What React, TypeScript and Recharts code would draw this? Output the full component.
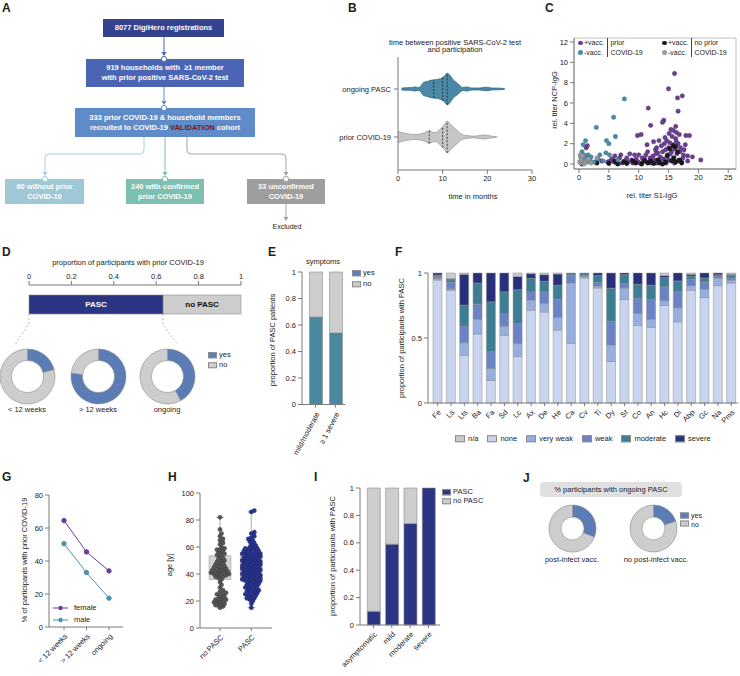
import {
  Area,
  Bar,
  BarChart,
  Cell,
  ComposedChart,
  LabelList,
  Line,
  LineChart,
  Pie,
  PieChart,
  ReferenceArea,
  ReferenceLine,
  Scatter,
  ScatterChart,
  XAxis,
  YAxis,
} from 'recharts'

const FONT = '"Liberation Sans", Arial, Helvetica, sans-serif'

// ---- B: violin densities (time in months, relative density) ----
const pascViolin: [number, number][] = [
  [0.8, 0.06], [2, 0.08], [3, 0.09], [3.8, 0.13], [4.6, 0.09], [5.2, 0.22], [5.7, 0.41], [6.5, 0.47],
  [7.5, 0.56], [8.5, 0.59], [9.8, 0.69], [10.5, 0.84], [11, 1], [11.6, 0.88], [12.4, 0.56], [13.2, 0.38],
  [13.9, 0.21], [14.5, 0.09], [15.4, 0.13], [16.5, 0.06], [18, 0.06], [19.8, 0.11], [21, 0.06], [23, 0.05], [23.9, 0.02],
]
const priorViolin: [number, number][] = [
  [0, 0.35], [1.2, 0.25], [2.7, 0.18], [4.2, 0.15], [5.2, 0.2], [6, 0.27], [7, 0.4], [7.8, 0.3], [8.3, 0.27],
  [9.4, 0.49], [10.3, 0.75], [11, 1], [11.8, 0.8], [12.7, 0.55], [13.5, 0.35], [14.2, 0.18], [15.4, 0.09],
  [17.2, 0.05], [19.1, 0.13], [21, 0.05], [22.2, 0],
]
const pascQuartiles = [8, 10, 11]
const priorQuartiles = [7, 10, 11]

// ---- C: titers (S1-IgG, NCP-IgG) ----
const vaccPrior: [number, number][] = [
  [16, 8.9], [15, 7.4], [17.3, 6.7], [16.5, 6.5], [11.6, 5.5], [16.6, 5.2], [14.2, 4.3], [14, 4.1], [12, 3.8],
  [16.2, 3.7], [15.4, 3.4], [15.8, 3.3], [16.3, 3.1], [15.1, 3.0], [16.8, 2.9], [15.6, 2.7], [16.2, 2.5],
  [17.9, 2.8], [18.5, 2.8], [10.4, 2.9], [9.8, 2.8], [11.4, 1.9], [13.4, 2.3], [14.7, 2.3], [17.8, 1.9],
  [12.5, 2.2], [14.3, 2.0], [15.2, 2.1], [16.6, 2.0], [13.8, 1.8], [15.0, 1.6], [16.0, 1.5], [17.0, 1.6],
  [14.5, 1.4], [12.8, 1.4], [11.5, 1.2], [13.2, 1.1], [15.5, 1.2], [16.4, 1.0], [17.5, 0.9], [18.2, 0.8],
  [19, 0.7], [20.4, 0.4], [18.2, 0.3], [17.4, 0.6], [14.8, 0.9], [13.6, 0.7], [12.4, 0.8], [11.2, 0.9],
  [10.6, 0.6], [9.6, 0.5], [8.8, 0.4], [7.6, 0.3], [6.8, 0.6], [5.9, 0.2], [5.2, 0.3], [6.3, 0.1], [7.2, 0.1],
  [8.2, 0.2], [9.0, 0.1], [9.9, 0.2], [10.8, 0.3], [11.7, 0.2], [12.6, 0.4], [13.4, 0.3], [14.2, 0.5],
  [15.0, 0.4], [15.8, 0.6], [16.6, 0.3], [17.2, 0.2], [12.0, 0.1], [13.0, 0.1], [14.6, 0.1], [16.0, 0.1],
  [10.2, 0.1], [11.0, 0.5], [8.0, 0.6], [6.0, 0.8], [3.8, 0.3], [4.8, 0.2], [1.5, 0.8], [1.2, 1.6], [1.4, 1.8],
  [0.9, 0.5], [2.9, 0.2], [9.3, 0.9], [12.9, 1.0], [14.0, 1.2], [15.3, 1.0], [16.9, 1.2], [17.6, 1.4],
  [13.7, 0.5], [11.9, 0.6], [10.0, 0.9], [7.0, 0.9], [5.5, 0.5], [8.5, 1.0], [16.3, 2.2], [15.7, 1.9],
  [14.4, 2.6], [13.0, 1.6],
]
const unvaccPrior: [number, number][] = [
  [7.6, 6.4], [5.8, 4.6], [2.9, 3.6], [6.1, 2.7], [4.6, 2.3], [5, 2.0], [1.1, 2.3], [0.7, 1.9], [0.5, 1.2],
  [1.5, 0.9], [0.3, 0.7], [0.6, 0.5], [0.9, 0.3], [1.3, 0.2], [0.4, 0.1], [1.8, 0.4], [2.0, 0.7], [3.5, 0.9],
  [3.2, 0.5], [4.5, 1.1], [5.1, 0.9], [2.5, 0.2], [0.8, 0.9], [1.0, 0.6], [4.0, 0.3], [6.5, 0.4],
]
const vaccNoPrior: [number, number][] = [
  [0.5, 0.0], [3, 0.1], [5, 0.05], [6.5, 0.0], [8, 0.05], [9.5, 0.1], [10.5, 0.0], [11.5, 0.1], [12.5, 0.05],
  [13.5, 0.1], [14.5, 0.2], [15.5, 0.3], [16.2, 0.2], [15.8, 1.8], [16.2, 1.7], [15.2, 1.5], [16.5, 1.2],
  [14.8, 0.8], [13.2, 0.4], [12.0, 0.3], [11.0, 0.3], [9.0, 0.3], [7.5, 0.2], [6.0, 0.3], [15.9, 0.6],
  [16.8, 0.4], [17.2, 0.1], [14.0, 0.0],
]
const unvaccNoPrior: [number, number][] = [
  [0.2, 0.9], [0.3, 0.6], [0.1, 0.2], [0.5, 0.1], [0.8, 0.0], [1.2, 0.3], [1.6, 0.5], [2.0, 0.1], [0.4, 0.4],
  [3, 0.6], [0.6, 0.8], [1.0, 0.1],
]

// ---- D ----
const pascOverall = 0.633
const durationLabels = ['< 12 weeks', '> 12 weeks', 'ongoing']
const durationYes = [0.21, 0.77, 0.42]

// ---- E ----
const symptomGroups = ['mild/moderate', '≥ 1 severe']
const symptomYes = [0.66, 0.54]

// ---- F ----
const symptomCodes = ['Fe', 'Ls', 'Lts', 'Ba', 'Fa', 'Sd', 'Lc', 'Ax', 'De', 'He', 'Ca', 'Cv', 'Ti', 'Dy', 'St', 'Co', 'An', 'Hc', 'Di', 'Abp', 'Gc', 'Na', 'Pms']
const sevNone = [0.945, 0.867, 0.367, 0.531, 0.173, 0.52, 0.357, 0.714, 0.699, 0.561, 0.459, 0.962, 0.885, 0.32, 0.796, 0.597, 0.582, 0.75, 0.625, 0.867, 0.811, 0.903, 0.923]
const sevVeryWeak = [0.012, 0.011, 0.097, 0.112, 0.092, 0.072, 0.1, 0.076, 0.066, 0.097, 0.464, 0.012, 0.015, 0.126, 0.089, 0.092, 0.061, 0.036, 0.107, 0.036, 0.064, 0.059, 0.021]
const sevWeak = [0.017, 0.052, 0.128, 0.117, 0.13, 0.094, 0.155, 0.065, 0.09, 0.14, 0.059, 0.006, 0.026, 0.184, 0.033, 0.115, 0.153, 0.107, 0.123, 0.046, 0.054, 0.015, 0.018]
const sevModerate = [0.011, 0.019, 0.161, 0.163, 0.383, 0.169, 0.26, 0.104, 0.081, 0.108, 0.013, 0.015, 0.054, 0.253, 0.069, 0.109, 0.11, 0.071, 0.084, 0.028, 0.033, 0.01, 0.02]
const sevSevere = [0.015, 0.008, 0.237, 0.077, 0.222, 0.145, 0.102, 0.036, 0.051, 0.086, 0.005, 0.005, 0.02, 0.117, 0.013, 0.087, 0.094, 0.016, 0.061, 0.013, 0.038, 0.013, 0.008]
const sevNA = [0, 0.043, 0.01, 0, 0, 0, 0.026, 0.005, 0.013, 0.008, 0, 0, 0, 0, 0, 0, 0, 0.02, 0, 0.01, 0, 0, 0.01]

// ---- G ----
const periods = ['< 12 weeks', '> 12 weeks', 'ongoing']
const femalePct = [64.5, 45.5, 34]
const malePct = [50.5, 33, 17.5]

// ---- H ----
const agesNoPasc = [15, 16, 17, 17, 18, 18, 19, 19, 20, 20, 21, 21, 22, 22, 23, 24, 25, 25, 26, 27, 28, 30, 32, 34, 36, 37, 38, 38, 39, 39, 40, 40, 40, 41, 41, 41, 42, 42, 42, 43, 43, 43, 44, 44, 45, 45, 46, 46, 47, 48, 48, 49, 50, 50, 51, 52, 53, 54, 55, 55, 56, 57, 58, 58, 59, 60, 62, 63, 65, 66, 68, 70, 73, 82]
const agesPasc = [15, 18, 20, 21, 22, 22, 23, 24, 24, 25, 25, 26, 26, 27, 27, 28, 28, 29, 29, 30, 30, 31, 31, 32, 32, 33, 33, 34, 34, 35, 35, 35, 36, 36, 36, 37, 37, 37, 38, 38, 38, 39, 39, 39, 40, 40, 40, 41, 41, 41, 42, 42, 42, 43, 43, 43, 44, 44, 44, 45, 45, 45, 46, 46, 46, 47, 47, 47, 48, 48, 48, 49, 49, 49, 50, 50, 50, 51, 51, 51, 52, 52, 52, 53, 53, 53, 54, 54, 54, 55, 55, 55, 56, 56, 56, 57, 57, 58, 58, 58, 59, 59, 60, 60, 61, 62, 63, 64, 65, 66, 67, 68, 70, 71, 86, 87]
// min, q1, median, q3, max
const boxNoPasc = [15, 36, 42, 53.5, 82]
const boxPasc = [15, 35.5, 45, 55.8, 86]

// ---- I ----
const severityGroups = ['asymptomatic', 'mild', 'moderate', 'severe']
const pascBySeverity = [0.1, 0.59, 0.74, 1]

// ---- J ----
const vaccLabels = ['post-infect vacc.', 'no post-infect vacc.']
const ongoingYes = [0.31, 0.2]

// ---- colours ----
const NAVY = '#2c3584'
const GREY = '#cdcdcd'
const YES = '#5b7cb4'
const TEAL = '#4a87a1'
const EDGE = '#8c8c8c'
const AX = '#7a7a7a'
const SEV = { na: '#cbcbcb', none: '#c9d5ee', vweak: '#97afdf', weak: '#6983c6', moderate: '#3d7e95', severe: '#28307e' }
const tickStyle = { fontSize: 7.5, fill: '#222', fontFamily: FONT }

function Lbl({ x, y, children, size = 7.5, weight = 400, color = '#222', align = 'center', rot = 0 }: any) {
  const tx = align === 'center' ? '-50%' : align === 'right' ? '-100%' : '0'
  return (
    <div
      style={{
        position: 'absolute', left: x, top: y, transform: `translate(${tx}, -50%) rotate(${rot}deg)`,
        fontSize: size, fontWeight: weight, color, whiteSpace: 'nowrap', lineHeight: 1.1, textAlign: 'center',
      }}
    >
      {children}
    </div>
  )
}

const Letter = ({ x, y, ch }: any) => (
  <div style={{ position: 'absolute', left: x, top: y - 2, fontSize: 12, fontWeight: 700, lineHeight: 1 }}>{ch}</div>
)

const Swatch = ({ x, y, color, label, size = 7.5 }: any) => (
  <div style={{ position: 'absolute', left: x, top: y, transform: 'translateY(-50%)', display: 'flex', alignItems: 'center', fontSize: size, lineHeight: 1 }}>
    <span style={{ display: 'inline-block', width: 7, height: 4, background: color, border: `0.5px solid ${EDGE}`, marginRight: 2 }} />
    {label}
  </div>
)

const FlowBox = ({ x, y, w, h, bg, children }: any) => (
  <div
    style={{
      position: 'absolute', left: x, top: y, width: w, height: h, background: bg, color: '#fff', fontWeight: 700,
      fontSize: 7.5, lineHeight: '10px', display: 'flex', alignItems: 'center', justifyContent: 'center', textAlign: 'center',
    }}
  >
    <div>{children}</div>
  </div>
)

function rotTick(angle: number, labels?: Record<string, string>) {
  return (props: any) => {
    const { x, y, payload } = props
    const ty = y + 3
    const text = labels ? labels[String(payload.value)] : payload.value
    return (
      <text x={x + 2} y={ty} dy="0.35em" transform={`rotate(${angle} ${x + 2} ${ty})`} textAnchor="end" fontSize={7.5} fill="#222">
        {text}
      </text>
    )
  }
}

function Donut({ cx, cy, outer, inner, yes }: any) {
  const size = outer * 2 + 4
  const data = [{ k: 'yes', v: yes }, { k: 'no', v: 1 - yes }]
  return (
    <div style={{ position: 'absolute', left: cx - size / 2, top: cy - size / 2 }}>
      <PieChart width={size} height={size} margin={{ top: 0, right: 0, bottom: 0, left: 0 }}>
        <Pie data={data} dataKey="v" cx={size / 2} cy={size / 2} innerRadius={inner} outerRadius={outer} startAngle={90} endAngle={-270} stroke={EDGE} strokeWidth={0.6} isAnimationActive={false}>
          <Cell fill={YES} />
          <Cell fill={GREY} />
        </Pie>
      </PieChart>
    </div>
  )
}

// ---------- A ----------
function PanelA() {
  const head = (x: number, y: number, c: string) => <polygon points={`${x - 2.5},${y - 4} ${x + 2.5},${y - 4} ${x},${y}`} fill={c} />
  const dot = (x: number, y: number, c: string) => <circle cx={x} cy={y} r={2.6} fill="#fff" stroke={c} strokeWidth={1} />
  return (
    <>
      <svg width={740} height={676} style={{ position: 'absolute', left: 0, top: 0 }}>
        <g fill="none" strokeWidth={1}>
          <path d="M164 37 V55" stroke="#4b65b5" />
          <path d="M164 87 V104" stroke="#5f8bc8" />
          <path d="M144 137 V150 Q144 154 140 154 H49 Q45 154 45 158 V175" stroke="#a8cfe0" />
          <path d="M165 137 V175" stroke="#7dbfb1" />
          <path d="M187 137 V150 Q187 154 191 154 H282 Q286 154 286 158 V175" stroke="#a3a3a3" />
          <path d="M286 204 V219" stroke="#a3a3a3" />
        </g>
        {head(164, 56, '#4b65b5')}
        {head(164, 105, '#5f8bc8')}
        {head(45, 176, '#a8cfe0')}
        {head(165, 176, '#7dbfb1')}
        {head(286, 176, '#a3a3a3')}
        {head(286, 221, '#a3a3a3')}
      </svg>
      <FlowBox x={103} y={19} w={121} h={18} bg="#34438f">8077 DigiHero registrations</FlowBox>
      <FlowBox x={86} y={59} w={158} h={28} bg="#4b65b5">
        919 households with &nbsp;≥1 member<br />with prior positive SARS-CoV-2 test
      </FlowBox>
      <FlowBox x={75} y={108} w={180} h={29} bg="#5f8bc8">
        333 prior COVID-19 &amp; household members<br />recruited to COVID-19 <span style={{ color: '#7a1a12' }}>VALIDATION</span> cohort
      </FlowBox>
      <FlowBox x={5} y={179} w={79} h={25} bg="#9fc8d7">60 without prior<br />COVID-19</FlowBox>
      <FlowBox x={126} y={179} w={78} h={25} bg="#7dbfb1">240 with confirmed<br />prior COVID-19</FlowBox>
      <FlowBox x={247} y={179} w={78} h={25} bg="#9e9e9e">33 unconfirmed<br />COVID-19</FlowBox>
      <svg width={740} height={676} style={{ position: 'absolute', left: 0, top: 0 }}>
        {dot(164, 59, '#4b65b5')}
        {dot(164, 108, '#5f8bc8')}
        {dot(45, 179, '#a8cfe0')}
        {dot(165, 179, '#7dbfb1')}
        {dot(286, 179, '#a3a3a3')}
      </svg>
      <Lbl x={287} y={227} size={7}>Excluded</Lbl>
    </>
  )
}

// ---------- B ----------
const VY = { pasc: 0.717, prior: 0.292 }
const VW = 0.14
function densAt(arr: [number, number][], t: number) {
  for (let i = 1; i < arr.length; i++) {
    if (t <= arr[i][0]) {
      const [t0, w0] = arr[i - 1]
      const [t1, w1] = arr[i]
      return w0 + ((w1 - w0) * (t - t0)) / (t1 - t0)
    }
  }
  return 0
}
const violinTick = (props: any) => {
  const { x, y, payload } = props
  return (
    <text x={x - 1} y={y} dy="0.35em" textAnchor="end" fontSize={7.5} fill="#222">
      {payload.value === VY.pasc ? 'ongoing PASC' : 'prior COVID-19'}
    </text>
  )
}
function PanelB() {
  const toArea = (arr: [number, number][], c: number) => arr.map(([t, w]) => ({ t, r: [c - w * VW, c + w * VW] }))
  const qLines = (arr: [number, number][], qs: number[], c: number, key: string) =>
    qs.map((q, i) => {
      const h = densAt(arr, q) * VW
      return <ReferenceLine key={key + i} segment={[{ x: q, y: c - h }, { x: q, y: c + h }]} stroke="#222" strokeWidth={0.8} strokeDasharray="2 1.5" />
    })
  return (
    <div style={{ position: 'absolute', left: 320, top: 30 }}>
      <ComposedChart width={230} height={180} margin={{ top: 27, right: 18, left: 8, bottom: 10 }}>
        <XAxis type="number" dataKey="t" domain={[0, 30]} ticks={[0, 10, 20, 30]} allowDataOverflow height={30} stroke={AX} tick={tickStyle} tickSize={4} />
        <YAxis type="number" domain={[0, 1]} ticks={[VY.prior, VY.pasc]} width={70} stroke={AX} tick={violinTick} tickSize={4} />
        <Area data={toArea(priorViolin, VY.prior)} dataKey="r" type="monotone" fill="#c6c6c6" fillOpacity={1} stroke="#9a9a9a" strokeWidth={0.8} isAnimationActive={false} />
        <Area data={toArea(pascViolin, VY.pasc)} dataKey="r" type="monotone" fill="#4a88a6" fillOpacity={1} stroke="#2e6a86" strokeWidth={0.8} isAnimationActive={false} />
        {qLines(priorViolin, priorQuartiles, VY.prior, 'p')}
        {qLines(pascViolin, pascQuartiles, VY.pasc, 'q')}
      </ComposedChart>
    </div>
  )
}

// ---------- C ----------
function PanelC() {
  const pts = (arr: [number, number][]) => arr.map(([x, y]) => ({ x, y }))
  const shape = (fill: string, stroke: string) => (p: any) => <circle cx={p.cx} cy={p.cy} r={2.2} fill={fill} stroke={stroke} strokeWidth={0.4} />
  return (
    <div style={{ position: 'absolute', left: 540, top: 20 }}>
      <ScatterChart width={200} height={190} margin={{ top: 18, right: 4, left: 10, bottom: 16 }}>
        <XAxis type="number" dataKey="x" domain={[-0.84, 26.3]} ticks={[0, 5, 10, 15, 20, 25]} allowDataOverflow height={25} stroke={AX} tick={tickStyle} tickSize={4} />
        <YAxis type="number" dataKey="y" domain={[-0.49, 12.39]} ticks={[0, 2, 4, 6, 8, 10, 12]} allowDataOverflow width={24} stroke={AX} tick={tickStyle} tickSize={4} />
        <ReferenceArea x1={-0.84} x2={26.3} y1={-0.49} y2={12.39} fill="none" stroke="#b0b0b0" strokeWidth={0.8} />
        <Scatter data={pts(vaccPrior)} shape={shape('#6b3f92', '#4a2a68')} isAnimationActive={false} />
        <Scatter data={pts(vaccNoPrior)} shape={shape('#1c1c1c', '#000')} isAnimationActive={false} />
        <Scatter data={pts(unvaccPrior)} shape={shape('#4d8aa6', '#2f6a85')} isAnimationActive={false} />
        <Scatter data={pts(unvaccNoPrior)} shape={shape('#9a9a9a', '#777')} isAnimationActive={false} />
      </ScatterChart>
    </div>
  )
}

// ---------- D ----------
function PanelD() {
  const data = [{ name: 'all', pasc: pascOverall, noPasc: 1 - pascOverall, l1: 'PASC', l2: 'no PASC' }]
  return (
    <>
      <Lbl x={128} y={263}>proportion of participants with prior COVID-19</Lbl>
      <div style={{ position: 'absolute', left: 0, top: 250 }}>
        <BarChart layout="vertical" width={260} height={80} data={data} margin={{ top: 15, right: 19, left: 29, bottom: 6 }}>
          <XAxis type="number" orientation="top" domain={[0, 1]} ticks={[0, 0.2, 0.4, 0.6, 0.8, 1]} height={20} stroke={AX} tick={tickStyle} tickSize={4} />
          <YAxis type="category" dataKey="name" hide />
          <Bar dataKey="pasc" stackId="a" fill={NAVY} stroke={EDGE} strokeWidth={0.6} barSize={19} isAnimationActive={false}>
            <LabelList dataKey="l1" position="center" fill="#fff" stroke="none" fontSize={8} fontWeight={700} />
          </Bar>
          <Bar dataKey="noPasc" stackId="a" fill={GREY} stroke={EDGE} strokeWidth={0.6} barSize={19} isAnimationActive={false}>
            <LabelList dataKey="l2" position="center" fill="#111" stroke="none" fontSize={8} fontWeight={700} />
          </Bar>
        </BarChart>
      </div>
      <svg width={260} height={120} style={{ position: 'absolute', left: 0, top: 300 }}>
        <g fill="none" stroke="#a8a8a8" strokeWidth={0.8} strokeDasharray="2 2">
          <path d="M29 14 V23 L15 45" />
          <path d="M163 14 V25 L178 45" />
        </g>
      </svg>
      {durationYes.map((v, i) => (
        <Donut key={i} cx={[27, 98, 167][i]} cy={376} outer={27.5} inner={16} yes={v} />
      ))}
      {durationLabels.map((l, i) => (
        <Lbl key={l} x={[27, 98, 167][i]} y={410}>{l}</Lbl>
      ))}
      <Swatch x={208} y={355} color={YES} label="yes" />
      <Swatch x={208} y={365} color={GREY} label="no" />
    </>
  )
}

// ---------- E ----------
function PanelE() {
  const data = symptomGroups.map((g, i) => ({ g, yes: symptomYes[i], no: 1 - symptomYes[i] }))
  return (
    <>
      <Lbl x={273} y={340} rot={-90}>proportion of PASC patients</Lbl>
      <Lbl x={323} y={262}>symptoms</Lbl>
      <div style={{ position: 'absolute', left: 270, top: 250 }}>
        <BarChart width={90} height={210} data={data} margin={{ top: 22, right: 14.5, left: 8, bottom: 5.5 }}>
          <XAxis dataKey="g" height={50} padding={{ left: 3.5, right: 0 }} interval={0} stroke={AX} tick={rotTick(-62)} tickSize={3} />
          <YAxis domain={[0, 1]} ticks={[0, 0.2, 0.4, 0.6, 0.8, 1]} width={24} stroke={AX} tick={tickStyle} tickSize={4} />
          <Bar dataKey="yes" stackId="s" fill={TEAL} stroke={EDGE} strokeWidth={0.6} barSize={13} isAnimationActive={false} />
          <Bar dataKey="no" stackId="s" fill={GREY} stroke={EDGE} strokeWidth={0.6} barSize={13} isAnimationActive={false} />
        </BarChart>
      </div>
      <Swatch x={352} y={273} color={YES} label="yes" />
      <Swatch x={352} y={284} color={GREY} label="no" />
    </>
  )
}

// ---------- F ----------
function PanelF() {
  const data = symptomCodes.map((c, i) => ({
    c, none: sevNone[i], vweak: sevVeryWeak[i], weak: sevWeak[i], moderate: sevModerate[i], severe: sevSevere[i], na: sevNA[i],
  }))
  const keys: (keyof typeof SEV)[] = ['none', 'vweak', 'weak', 'moderate', 'severe', 'na']
  const legend: [keyof typeof SEV, string][] = [['na', 'n/a'], ['none', 'none'], ['vweak', 'very weak'], ['weak', 'weak'], ['moderate', 'moderate'], ['severe', 'severe']]
  return (
    <>
      <Lbl x={402} y={338} rot={-90}>proportion of participants with PASC</Lbl>
      <div style={{ position: 'absolute', left: 390, top: 255 }}>
        <BarChart width={350} height={185} data={data} margin={{ top: 18, right: 2, left: 14, bottom: 7 }}>
          <XAxis dataKey="c" height={30} padding={{ left: 3, right: 0 }} interval={0} stroke={AX} tick={rotTick(-45)} tickSize={3} />
          <YAxis domain={[0, 1]} ticks={[0, 0.5, 1]} width={24} stroke={AX} tick={tickStyle} tickSize={4} />
          {keys.map((k) => (
            <Bar key={k} dataKey={k} stackId="f" fill={SEV[k]} stroke={EDGE} strokeWidth={0.5} barSize={9} isAnimationActive={false} />
          ))}
        </BarChart>
      </div>
      <div style={{ position: 'absolute', left: 455, top: 439, transform: 'translateY(-50%)', display: 'flex', gap: 9, fontSize: 7.5, lineHeight: 1 }}>
        {legend.map(([k, l]) => (
          <div key={k} style={{ display: 'flex', alignItems: 'center' }}>
            <span style={{ display: 'inline-block', width: 8, height: 5, background: SEV[k], border: `0.5px solid ${EDGE}`, marginRight: 3 }} />
            {l}
          </div>
        ))}
      </div>
    </>
  )
}

// ---------- G ----------
function PanelG() {
  const data = periods.map((p, i) => ({ p, female: femalePct[i], male: malePct[i] }))
  return (
    <>
      <Lbl x={25} y={560} rot={-90}>% of participants with prior COVID-19</Lbl>
      <div style={{ position: 'absolute', left: 0, top: 480 }}>
        <LineChart width={135} height={196} data={data} margin={{ top: 15, right: 12, left: 27, bottom: 9 }}>
          <XAxis dataKey="p" height={40} padding={{ left: 15, right: 14 }} interval={0} stroke={AX} tick={rotTick(-45)} tickSize={3} />
          <YAxis domain={[0, 80]} ticks={[0, 20, 40, 60, 80]} width={22} stroke={AX} tick={tickStyle} tickSize={4} />
          <Line dataKey="female" stroke="#6a3d96" strokeWidth={1} dot={{ r: 2.2, fill: '#6a3d96', stroke: '#6a3d96' }} isAnimationActive={false} />
          <Line dataKey="male" stroke="#4d91ad" strokeWidth={1} dot={{ r: 2.2, fill: '#4d91ad', stroke: '#4d91ad' }} isAnimationActive={false} />
        </LineChart>
      </div>
      <svg width={20} height={30} style={{ position: 'absolute', left: 52, top: 600 }}>
        <line x1={1} x2={16} y1={8} y2={8} stroke="#6a3d96" />
        <circle cx={8.5} cy={8} r={2.2} fill="#6a3d96" />
        <line x1={1} x2={16} y1={20} y2={20} stroke="#4d91ad" />
        <circle cx={8.5} cy={20} r={2.2} fill="#4d91ad" />
      </svg>
      <Lbl x={74} y={608} align="left">female</Lbl>
      <Lbl x={74} y={620} align="left">male</Lbl>
    </>
  )
}

// ---------- H ----------
// beeswarm layout: points sorted by age, each pushed sideways until it no longer collides
function swarm(ages: number[], center: number) {
  const pxX = 31.3
  const pxY = 1.35
  const step = 1.5
  const minDist = 3.0
  const placed: { x: number; y: number }[] = []
  const out: { x: number; y: number }[] = []
  for (const age of [...ages].sort((a, b) => a - b)) {
    const py = age * pxY
    let chosen = 0
    let bestGap = -1
    for (let k = 0; k <= 12; k++) {
      const off = k === 0 ? 0 : (k % 2 ? 1 : -1) * Math.ceil(k / 2) * step
      const gap = placed.reduce((m, p) => Math.min(m, Math.hypot(p.x - off, p.y - py)), Infinity)
      if (gap >= minDist) {
        chosen = off
        bestGap = Infinity
        break
      }
      if (gap > bestGap) {
        bestGap = gap
        chosen = off
      }
    }
    placed.push({ x: chosen, y: py })
    out.push({ x: center + chosen / pxX, y: age })
  }
  return out
}
function boxParts(c: number, b: number[], k: string) {
  const [mn, q1, md, q3, mx] = b
  const hw = 0.345
  const cap = 0.12
  return [
    <ReferenceLine key={k + 'w1'} segment={[{ x: c, y: mn }, { x: c, y: q1 }]} stroke="#c4c4c4" strokeWidth={1.4} />,
    <ReferenceLine key={k + 'w2'} segment={[{ x: c, y: q3 }, { x: c, y: mx }]} stroke="#c4c4c4" strokeWidth={1.4} />,
    <ReferenceLine key={k + 'c1'} segment={[{ x: c - cap, y: mn }, { x: c + cap, y: mn }]} stroke="#999" />,
    <ReferenceLine key={k + 'c2'} segment={[{ x: c - cap, y: mx }, { x: c + cap, y: mx }]} stroke="#999" />,
    <ReferenceArea key={k + 'b'} x1={c - hw} x2={c + hw} y1={q1} y2={q3} fill="#d6d6d6" fillOpacity={1} stroke="#a8a8a8" strokeWidth={0.8} />,
    <ReferenceLine key={k + 'm'} segment={[{ x: c - hw, y: md }, { x: c + hw, y: md }]} stroke="#999" />,
  ]
}
function PanelH() {
  const labels = { '1': 'no PASC', '2': 'PASC' }
  return (
    <>
      <Lbl x={170} y={565} rot={-90}>age [y]</Lbl>
      <div style={{ position: 'absolute', left: 170, top: 480 }}>
        <ScatterChart width={110} height={196} margin={{ top: 13, right: 8, left: 8, bottom: 8 }}>
          <XAxis type="number" dataKey="x" domain={[0.361, 2.661]} ticks={[1, 2]} allowDataOverflow height={40} stroke={AX} tick={rotTick(-45, labels)} tickSize={3} />
          <YAxis type="number" dataKey="y" domain={[0, 100]} ticks={[0, 20, 40, 60, 80, 100]} width={22} stroke={AX} tick={tickStyle} tickSize={4} />
          {boxParts(1, boxNoPasc, 'n')}
          {boxParts(2, boxPasc, 'p')}
          <Scatter data={swarm(agesNoPasc, 1)} shape={(p: any) => <circle cx={p.cx} cy={p.cy} r={2.1} fill="#575757" stroke="#333" strokeWidth={0.4} />} isAnimationActive={false} />
          <Scatter data={swarm(agesPasc, 2)} shape={(p: any) => <circle cx={p.cx} cy={p.cy} r={2.1} fill="#2a3592" stroke="#161c55" strokeWidth={0.4} />} isAnimationActive={false} />
        </ScatterChart>
      </div>
    </>
  )
}

// ---------- I ----------
function PanelI() {
  const data = severityGroups.map((g, i) => ({ g, pasc: pascBySeverity[i], no: 1 - pascBySeverity[i] }))
  return (
    <>
      <Lbl x={333} y={556} rot={-90}>proportion of participants with PASC</Lbl>
      <div style={{ position: 'absolute', left: 335, top: 475 }}>
        <BarChart width={110} height={201} data={data} margin={{ top: 13, right: 5, left: 5, bottom: 6 }}>
          <XAxis dataKey="g" height={45} padding={{ left: 4.3, right: 2.4 }} interval={0} stroke={AX} tick={rotTick(-45)} tickSize={3} />
          <YAxis domain={[0, 1]} ticks={[0, 0.2, 0.4, 0.6, 0.8, 1]} width={20} stroke={AX} tick={tickStyle} tickSize={4} />
          <Bar dataKey="pasc" stackId="i" fill={NAVY} stroke={EDGE} strokeWidth={0.6} barSize={13} isAnimationActive={false} />
          <Bar dataKey="no" stackId="i" fill={GREY} stroke={EDGE} strokeWidth={0.6} barSize={13} isAnimationActive={false} />
        </BarChart>
      </div>
      <Swatch x={442} y={492} color={NAVY} label="PASC" />
      <Swatch x={442} y={501} color={GREY} label="no PASC" />
    </>
  )
}

// ---------- J ----------
function PanelJ() {
  return (
    <>
      <div style={{ position: 'absolute', left: 540, top: 482, width: 142, height: 15, borderRadius: 4, background: '#e0e0e0', fontSize: 7.5, display: 'flex', alignItems: 'center', justifyContent: 'center' }}>
        % participants with ongoing PASC
      </div>
      {ongoingYes.map((v, i) => (
        <Donut key={i} cx={[572, 653][i]} cy={528} outer={23.5} inner={11.5} yes={v} />
      ))}
      {vaccLabels.map((l, i) => (
        <Lbl key={l} x={[572, 656][i]} y={560}>{l}</Lbl>
      ))}
      <Swatch x={680} y={515} color={YES} label="yes" size={7} />
      <Swatch x={680} y={523.5} color={GREY} label="no" size={7} />
    </>
  )
}

function CLegend() {
  const dot = (c: string) => <span style={{ display: 'inline-block', width: 4.5, height: 4.5, borderRadius: '50%', background: c, marginRight: 1.5 }} />
  const row = (c: string, t: string) => <div style={{ display: 'flex', alignItems: 'center', height: 9.5 }}>{dot(c)}{t}</div>
  const group = (x: number, a: string, b: string, l1: string) => (
    <div style={{ position: 'absolute', left: x, top: 38, display: 'flex', fontSize: 7, lineHeight: 1 }}>
      <div>{row(a, '+vacc.')}{row(b, '-vacc.')}</div>
      <div style={{ borderLeft: '0.8px solid #444', marginLeft: 3, paddingLeft: 2 }}>
        <div style={{ height: 9.5, display: 'flex', alignItems: 'center' }}>{l1}</div>
        <div style={{ height: 9.5, display: 'flex', alignItems: 'center' }}>COVID-19</div>
      </div>
    </div>
  )
  return (
    <>
      {group(578, '#6b3f92', '#4d8aa6', 'prior')}
      {group(662, '#1c1c1c', '#9a9a9a', 'no prior')}
      <Lbl x={652} y={196}>rel. titer S1-IgG</Lbl>
      <Lbl x={555} y={100} rot={-90}>rel. titer NCP-IgG</Lbl>
    </>
  )
}

export default function App() {
  return (
    <div style={{ position: 'absolute', left: 0, top: 0, width: 740, height: 676, overflow: 'hidden', background: '#fff', fontFamily: FONT, color: '#222' }}>
      <Letter x={2} y={4} ch="A" />
      <Letter x={348} y={4} ch="B" />
      <Letter x={545} y={4} ch="C" />
      <Letter x={2} y={248} ch="D" />
      <Letter x={268} y={248} ch="E" />
      <Letter x={395} y={248} ch="F" />
      <Letter x={2} y={473} ch="G" />
      <Letter x={168} y={473} ch="H" />
      <Letter x={314} y={473} ch="I" />
      <Letter x={523} y={474} ch="J" />
      <PanelA />
      <div style={{ position: 'absolute', left: 455, top: 45.5, transform: 'translate(-50%, -50%)', fontSize: 7.5, lineHeight: '7.5px', textAlign: 'center', whiteSpace: 'nowrap' }}>
        time between positive SARS-CoV-2 test<br />and participation
      </div>
      <PanelB />
      <Lbl x={473} y={197}>time in months</Lbl>
      <PanelC />
      <CLegend />
      <PanelD />
      <PanelE />
      <PanelF />
      <PanelG />
      <PanelH />
      <PanelI />
      <PanelJ />
    </div>
  )
}
